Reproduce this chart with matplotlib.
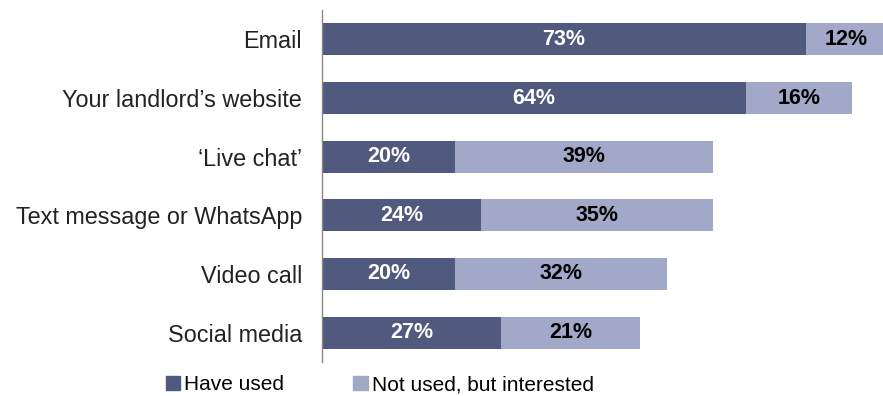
import matplotlib.pyplot as plt
from matplotlib.patches import Patch

plt.rcParams['font.family'] = ['Liberation Sans', 'DejaVu Sans']

channels = ["Email", "Your landlord\u2019s website", "\u2018Live chat\u2019",
            "Text message or WhatsApp", "Video call", "Social media"]
have_used = [73, 64, 20, 24, 20, 27]
interested = [12, 16, 39, 35, 32, 21]

dark = "#4f5a7e"
light = "#a2a9c8"

fig = plt.figure(figsize=(8.83, 3.96), dpi=100)
ax = fig.add_axes([0.3647, 0.0859, 0.6353, 0.8888])

y = list(range(len(channels)))
ax.barh(y, have_used, height=0.55, color=dark, label="Have used")
ax.barh(y, interested, left=have_used, height=0.55, color=light,
        label="Not used, but interested")

for i in y:
    ax.text(have_used[i] / 2, i, f"{have_used[i]}%", ha="center", va="center",
            color="white", fontsize=15.5, fontweight="bold")
    ax.text(have_used[i] + interested[i] / 2, i, f"{interested[i]}%",
            ha="center", va="center", color="black", fontsize=15.5,
            fontweight="bold")

ax.set_xlim(0, 84.6)
ax.set_ylim(5.5, -0.5)
ax.set_yticks(y)
ax.set_yticklabels(channels, fontsize=16.8, color="#222222")
ax.tick_params(axis="y", length=0, pad=14.5)
ax.set_xticks([])
for side in ["top", "right", "bottom"]:
    ax.spines[side].set_visible(False)
ax.spines["left"].set_color("#888888")
ax.spines["left"].set_linewidth(1)

handles = [Patch(color=dark), Patch(color=light)]
fig.legend(handles, ["Have used", "Not used, but interested"], ncol=2,
           loc="center", bbox_to_anchor=(0.43, 0.028), frameon=False,
           fontsize=15, handlelength=0.7, handleheight=0.7,
           handletextpad=0.2, columnspacing=3.3)

fig.savefig("out.png", dpi=100)
